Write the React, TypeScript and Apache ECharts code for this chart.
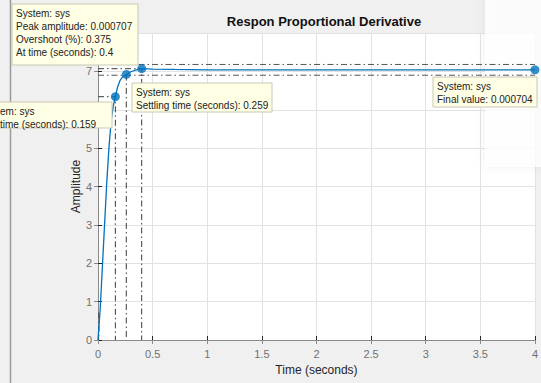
import React, { useEffect, useRef } from "react";
import * as echarts from "echarts";

// Step response (amplitude in units of 1e-4)
const times = [0, 0.02, 0.04, 0.06, 0.08, 0.1, 0.12, 0.14, 0.159, 0.18, 0.2, 0.22, 0.259, 0.3, 0.35, 0.4, 0.5, 0.7, 1.0, 1.5, 2.0, 2.5, 3.0, 3.5, 4.0];
const amps = [0, 0.8, 1.9, 3.0, 4.1, 5.0, 5.7, 6.1, 6.34, 6.6, 6.75, 6.84, 6.92, 6.99, 7.04, 7.07, 7.06, 7.05, 7.04, 7.04, 7.04, 7.04, 7.04, 7.04, 7.04];

// characteristics
const riseTime = 0.159;
const riseHigh = 6.34;
const riseLowTime = 0.008;
const riseLow = 0.7;
const settleTime = 0.259;
const settleAmp = 6.92;
const settleUpper = 7.18;
const settleLower = 6.9;
const peakTime = 0.4;
const peakAmp = 7.07;
const finalTime = 4;
const finalAmp = 7.04;

const xTicks = { min: 0, max: 4, interval: 0.5 };
const yTicks = { min: 0, max: 8, interval: 1 };
// labels hidden behind the data tips in the reference
const hiddenYLabels = [6, 8];

const peakTip = ["System: sys", "Peak amplitude: 0.000707", "Overshoot (%): 0.375", "At time (seconds): 0.4"];
const riseTip = ["em: sys", "time (seconds): 0.159"];
const settleTip = ["System: sys", "Settling time (seconds): 0.259"];
const finalTip = ["System: sys", "Final value: 0.000704"];

const FONT = "'Liberation Sans', Arial, Helvetica, sans-serif";
const BLUE = "#0072BD";
const DASH = [6, 3, 1.5, 3];

function tip(x: number, y: number, w: number, h: number, lines: string[], tx = 4) {
  return {
    type: "group",
    x,
    y,
    z: 100,
    children: [
      {
        type: "rect",
        shape: { x: 0, y: 0, width: w, height: h },
        style: { fill: "#ffffe6", stroke: "#c8c8b4", lineWidth: 1 },
        z: 100,
      },
      ...lines.map((t, i) => ({
        type: "text",
        x: tx,
        y: 4 + i * 13.3,
        z: 101,
        style: { text: t, fill: "#222", font: `10px ${FONT}` },
      })),
    ],
  };
}

export default function App() {
  const ref = useRef<HTMLDivElement>(null);
  useEffect(() => {
    document.body.style.margin = "0";
    const chart = echarts.init(ref.current!, null, { renderer: "svg" });
    const curve = times.map((t, i) => [t, amps[i]]);
    const dashLine = (data: number[][], color = "#3a3a3a") => ({
      type: "line",
      data,
      symbol: "none",
      silent: true,
      z: 3,
      lineStyle: { color, width: 1, type: DASH },
    });
    chart.setOption({
      animation: false,
      backgroundColor: "#f0f0f0",
      title: {
        text: "Respon Proportional Derivative",
        left: 319,
        textAlign: "center",
        top: 10,
        textStyle: { fontFamily: FONT, fontSize: 13, fontWeight: "bold", color: "#111" },
      },
      grid: { left: 98, right: 1, top: 33, bottom: 43, show: true, backgroundColor: "#fff", borderWidth: 0 },
      xAxis: [
        {
          type: "value",
          ...xTicks,
          name: "Time (seconds)",
          nameLocation: "middle",
          nameGap: 24,
          nameMoveOverlap: false,
          nameTextStyle: { fontFamily: FONT, fontSize: 12, color: "#262626" },
          axisLine: { lineStyle: { color: "#262626" } },
          axisTick: { inside: true, length: 4, lineStyle: { color: "#262626" } },
          axisLabel: { fontFamily: FONT, fontSize: 11, color: "#707070", margin: 8 },
          splitLine: { show: true, lineStyle: { color: "#e2e2e2" } },
        },
        {
          type: "value",
          ...xTicks,
          position: "top",
          axisLine: { show: true, lineStyle: { color: "#8a8a8a" } },
          axisTick: { inside: true, length: 4, lineStyle: { color: "#8a8a8a" } },
          axisLabel: { show: false },
          splitLine: { show: false },
        },
      ],
      yAxis: [
        {
          type: "value",
          ...yTicks,
          name: "Amplitude",
          nameLocation: "middle",
          nameGap: 16,
          nameMoveOverlap: false,
          nameTextStyle: { fontFamily: FONT, fontSize: 12, color: "#262626" },
          axisLine: { show: true, lineStyle: { color: "#262626" } },
          axisTick: { show: true, inside: true, length: 4, lineStyle: { color: "#262626" } },
          axisLabel: {
            fontFamily: FONT,
            fontSize: 11,
            color: "#707070",
            margin: 6,
            formatter: (v: number) => (hiddenYLabels.includes(v) ? "" : String(v)),
          },
          splitLine: { show: true, lineStyle: { color: "#e2e2e2" } },
        },
        {
          type: "value",
          ...yTicks,
          position: "right",
          axisLine: { show: true, lineStyle: { color: "#8a8a8a" } },
          axisTick: { show: true, inside: true, length: 4, lineStyle: { color: "#8a8a8a" } },
          axisLabel: { show: false },
          splitLine: { show: false },
        },
      ],
      series: [
        dashLine([[0, settleUpper], [finalTime, settleUpper]], "#555"),
        dashLine([[0, settleLower], [finalTime, settleLower]], "#555"),
        dashLine([[0, riseHigh], [riseTime, riseHigh], [riseTime, 0]]),
        dashLine([[0, riseLow], [riseLowTime, riseLow], [riseLowTime, 0]]),
        dashLine([[settleTime, settleAmp], [settleTime, 0]]),
        dashLine([[0, peakAmp], [peakTime, peakAmp], [peakTime, 0]]),
        {
          type: "line",
          data: curve,
          symbol: "none",
          z: 5,
          lineStyle: { color: BLUE, width: 1.3 },
        },
        {
          type: "scatter",
          data: [[riseTime, riseHigh], [settleTime, settleAmp], [peakTime, peakAmp], [finalTime, finalAmp]],
          symbol: "circle",
          symbolSize: 9,
          z: 6,
          itemStyle: { color: BLUE },
        },
      ],
      graphic: [
        // overlay window on the right
        {
          type: "rect",
          z: 1,
          shape: { x: 485, y: -5, width: 70, height: 172 },
          style: { fill: "rgba(255,255,255,0.82)", shadowBlur: 8, shadowColor: "rgba(0,0,0,0.08)" },
        },
        // left window edge
        {
          type: "line",
          z: 90,
          shape: { x1: 10.5, y1: 0, x2: 10.5, y2: 383 },
          style: { stroke: "#9a9a9a", lineWidth: 1.5 },
        },
        tip(12, 4, 126, 61, peakTip),
        tip(-2, 102, 114, 26, riseTip, 2),
        tip(132, 83, 140, 29, settleTip),
        tip(433, 77, 104, 30, finalTip),
      ],
    });
    return () => chart.dispose();
  }, []);
  return <div ref={ref} style={{ width: 541, height: 383 }} />;
}
